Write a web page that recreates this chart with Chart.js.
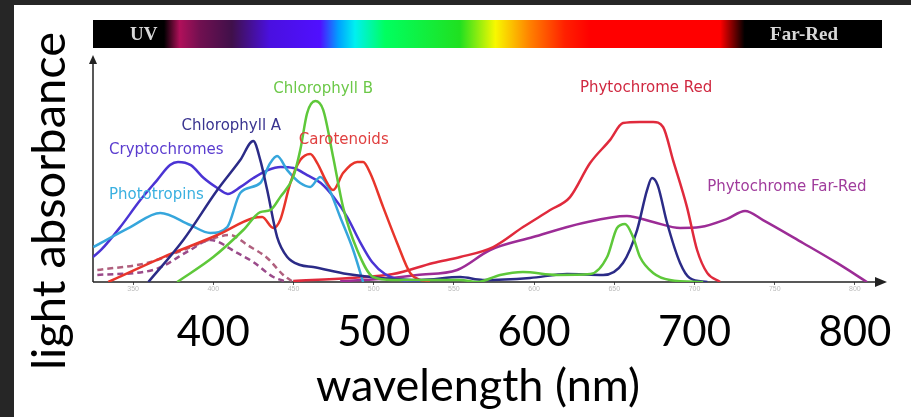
<!DOCTYPE html>
<html>
<head>
<meta charset="utf-8">
<script src="https://cdn.jsdelivr.net/npm/chart.js@4.4.0/dist/chart.umd.min.js"></script>
<style>
  html, body { margin: 0; padding: 0; background: #262626; }
  body { width: 911px; height: 417px; overflow: hidden; position: relative; }
  #wrap { position: absolute; left: 14px; top: 5px; width: 897px; height: 412px; background: #fff; }
</style>
</head>
<body>
<div id="wrap"><canvas id="spectrumChart" width="897" height="412"></canvas></div>
<script>
// --- data: [wavelength nm, relative absorbance 0-100] ---
const cryptochromes = [[325, 11], [330, 14.1], [342, 24.2], [354.5, 36.1], [365, 44.9], [373, 51.5], [378, 52.9],
  [386, 51.5], [394, 45.8], [402.5, 41.4], [409, 38.8], [417, 41.9], [425, 45.8], [434, 49.3], [442, 50.7],
  [450, 50.2], [458.5, 47.1], [467, 43.6], [475, 37.4], [483.5, 28.6], [491.5, 17.6], [499, 8.8], [507, 3.5],
  [516.5, 0.9], [529, 0]];
const chlorophyllA = [[359.5, 0], [381.3, 18.5], [402.5, 40.5], [416.8, 53.7], [424.9, 62.1], [429.3, 53.7],
  [433.6, 40.5], [439.8, 19.8], [446.1, 11], [454.2, 7.5], [462.3, 6.6], [483.5, 3.5], [504, 1.8], [529, 0.9],
  [554, 2.2], [568, 0.9], [597.5, 1.8], [620.5, 3.5], [643, 3.1], [655.4, 8.4], [664.2, 22.9], [670.4, 40.5],
  [673.5, 45.8], [677, 42.7], [682.9, 26], [691, 8.4], [697, 1.8], [708, 0]];
const chlorophyllB = [[377.5, 0], [400, 11], [418.7, 22.9], [429.3, 30.8], [435.5, 31.7], [441.7, 37.4],
  [449.8, 46.3], [454.2, 58.1], [458.5, 74.4], [463.6, 79.7], [468.5, 75.8], [474.7, 55.1], [480.9, 33],
  [489.7, 14.1], [499.7, 2.2], [512, 0.9], [554, 0.9], [564.5, 0], [578.8, 3.1], [593, 4.4], [614.3, 3.1],
  [635, 3.5], [645.5, 11], [651.7, 23.8], [656.7, 25.6], [661.7, 19.8], [666, 11], [674.2, 4], [684.7, 0.9],
  [705.4, 0]];
const carotenoids = [[334.5, 0], [368.8, 11], [402.5, 20.7], [424.9, 28.2], [430.5, 28.6], [437.4, 23.8],
  [441.7, 27.3], [448, 43.6], [454.2, 53.7], [460.4, 56.4], [464.8, 52.4], [471, 43.6], [474.7, 40.5],
  [480.9, 48], [489.7, 52.9], [493.4, 52.9], [497.8, 48], [505.9, 33], [514.6, 17.2], [522.7, 4], [528.9, 0.9],
  [535, 0]];
const phototropins = [[325.2, 15.4], [348.3, 24.2], [366.9, 30.4], [385.6, 25.1], [398.1, 21.6], [408.7, 24.2],
  [416.8, 39.2], [429.3, 43.6], [435.5, 52.4], [439.8, 55.5], [446.1, 49.3], [454.2, 43.6], [460.4, 41.9],
  [466.7, 46.3], [471.6, 41.9], [479.1, 28.6], [487.2, 14.1], [493.4, 0]];
const phytochromeRed = [[449.8, 0.4], [485.3, 1.8], [512.1, 3.5], [537.1, 8.4], [553.9, 11], [574.5, 15.4],
  [593.1, 24.2], [610, 31.7], [622.4, 37.4], [634.9, 52.4], [647.4, 62.6], [655.4, 70], [666, 70.5],
  [674.2, 70.5], [680.4, 68.3], [686.6, 53.7], [695.3, 33], [701.6, 14.1], [707.9, 4], [716, 0]];
const phytochromeFarRed = [[479.1, 0.4], [504, 1.3], [527.1, 3.1], [552, 5.3], [572.6, 14.1], [599.4, 19.8],
  [630.5, 26], [657.9, 29.1], [674.2, 26.4], [691, 23.8], [703.5, 24.2], [720.3, 27.8], [731.5, 31.3],
  [742.7, 27.3], [767.6, 17.2], [788.8, 8.4], [807.5, 0]];
const dashedUpper = [[327.7, 5.3], [358.8, 8.4], [381.3, 14.1], [402.5, 19.8], [410.6, 20.7], [421.2, 16.3],
  [433.6, 10.6], [443.6, 3.1], [449.8, 0]];
const dashedLower = [[327.7, 3.1], [362.6, 5.3], [385.6, 14.1], [398.1, 18.5], [414.9, 12.8], [424.9, 8.8],
  [437.4, 2.2], [446.1, 0]];

const majorTicks = [400, 500, 600, 700, 800];
const minorTicks = [350, 400, 450, 500, 550, 600, 650, 700, 750, 800];
const xTitle = 'wavelength (nm)';
const yTitle = 'light absorbance';

// label text, anchor wavelength, anchor absorbance, colour
const curveLabels = [
  ['Cryptochromes', 370.7, 58.1, '#5a3ccf'],
  ['Chlorophyll A', 411.2, 68.7, '#3a3490'],
  ['Chlorophyll B', 468.5, 85.0, '#6cc848'],
  ['Carotenoids', 481.3, 62.6, '#e04040'],
  ['Phototropins', 364.5, 38.3, '#3ab0e0'],
  ['Phytochrome Red', 669.8, 85.5, '#d02840'],
  ['Phytochrome Far-Red', 757.6, 41.9, '#a03c9c']
];

const spectrumStops = [
  [0, '#000'], [0.09, '#000'], [0.11, '#b0105a'], [0.136, '#701050'], [0.176, '#40104a'],
  [0.224, '#4a10e0'], [0.288, '#5010ff'], [0.311, '#00a0ff'], [0.332, '#00f0f0'], [0.37, '#00ff60'],
  [0.465, '#20e020'], [0.51, '#f8f800'], [0.554, '#ff8000'], [0.598, '#ff2000'], [0.63, '#ff0000'],
  [0.795, '#ff0000'], [0.826, '#000'], [1, '#000']
];

// --- helpers ---
const toPoints = arr => arr.map(([x, y]) => ({ x, y }));
const makeLine = (label, arr, color, dash) => ({
  label: label,
  data: toPoints(arr),
  borderColor: color,
  borderWidth: 2.5,
  borderDash: dash || [],
  pointRadius: 0,
  fill: false,
  cubicInterpolationMode: 'monotone'
});

// --- plugins ---
const spectrumBar = {
  id: 'spectrumBar',
  beforeDraw(chart) {
    const { ctx, chartArea } = chart;
    const x0 = chartArea.left, x1 = chartArea.right - 5, y0 = 15, h = 28;
    const g = ctx.createLinearGradient(x0, 0, x1, 0);
    spectrumStops.forEach(([f, c]) => g.addColorStop(f, c));
    ctx.save();
    ctx.fillStyle = g;
    ctx.fillRect(x0, y0, x1 - x0, h);
    ctx.fillStyle = '#d8d8d8';
    ctx.font = 'bold 19px "Liberation Serif"';
    ctx.textBaseline = 'middle';
    ctx.textAlign = 'left';
    ctx.fillText('UV', x0 + 37, y0 + h / 2 + 1);
    ctx.textAlign = 'right';
    ctx.fillText('Far-Red', x1 - 44, y0 + h / 2 + 1);
    ctx.restore();
  }
};

const axisArrows = {
  id: 'axisArrows',
  beforeDatasetsDraw(chart) {
    const { ctx, chartArea: a } = chart;
    ctx.save();
    ctx.strokeStyle = '#222';
    ctx.fillStyle = '#222';
    ctx.lineWidth = 1.5;
    ctx.beginPath();
    ctx.moveTo(a.left, a.bottom); ctx.lineTo(a.left, a.top + 6);
    ctx.moveTo(a.left, a.bottom); ctx.lineTo(a.right - 8, a.bottom);
    ctx.stroke();
    ctx.beginPath();
    ctx.moveTo(a.left, a.top); ctx.lineTo(a.left - 4, a.top + 9); ctx.lineTo(a.left + 4, a.top + 9);
    ctx.fill();
    ctx.beginPath();
    ctx.moveTo(a.right, a.bottom); ctx.lineTo(a.right - 12, a.bottom - 5); ctx.lineTo(a.right - 12, a.bottom + 5);
    ctx.fill();
    ctx.restore();
  }
};

const labelsAndTitles = {
  id: 'labelsAndTitles',
  afterDraw(chart) {
    const { ctx } = chart;
    const xs = chart.scales.x, ys = chart.scales.y;
    ctx.save();
    ctx.textAlign = 'center';
    ctx.textBaseline = 'middle';
    ctx.font = '15px "DejaVu Sans"';
    curveLabels.forEach(([text, nm, v, color]) => {
      ctx.fillStyle = color;
      ctx.fillText(text, xs.getPixelForValue(nm), ys.getPixelForValue(v));
    });
    // axis titles
    ctx.fillStyle = '#000';
    ctx.font = '45px Lato';
    ctx.fillText(xTitle, 464, 381);
    ctx.font = '47px Lato';
    ctx.translate(36, 196);
    ctx.rotate(-Math.PI / 2);
    ctx.fillText(yTitle, 0, 0);
    ctx.restore();
  }
};

// --- chart ---
const ctx = document.getElementById('spectrumChart').getContext('2d');
new Chart(ctx, {
  type: 'line',
  data: {
    datasets: [
      makeLine('Chlorophyll B', chlorophyllB, '#5ec83a'),
      makeLine('Chlorophyll A', chlorophyllA, '#2b2b87'),
      makeLine('Carotenoids', carotenoids, '#e8352b'),
      makeLine('Phototropins', phototropins, '#36a6dc'),
      makeLine('Cryptochromes', cryptochromes, '#4b34d4'),
      makeLine('Phytochrome Red', phytochromeRed, '#e02a3c'),
      makeLine('Phytochrome Far-Red', phytochromeFarRed, '#9c2c96'),
      makeLine('Dashed 1', dashedUpper, '#b0607e', [6, 4]),
      makeLine('Dashed 2', dashedLower, '#9a4a8a', [6, 4])
    ]
  },
  options: {
    responsive: false,
    animation: false,
    layout: { padding: { top: 50, left: 79, right: 24, bottom: 0 } },
    plugins: { legend: { display: false }, tooltip: { enabled: false } },
    scales: {
      y: { display: false, min: 0, max: 100 },
      xm: {
        type: 'linear', position: 'bottom', weight: 0, min: 325, max: 820,
        afterBuildTicks: s => { s.ticks = minorTicks.map(v => ({ value: v })); },
        afterFit: s => { s.height = 14; },
        grid: { drawOnChartArea: false, drawTicks: true, tickLength: 3, color: '#555' },
        border: { display: false },
        ticks: { font: { size: 7 }, color: '#bbb', padding: 0, maxRotation: 0 }
      },
      x: {
        type: 'linear', position: 'bottom', weight: 1, min: 325, max: 820,
        afterBuildTicks: s => { s.ticks = majorTicks.map(v => ({ value: v })); },
        afterFit: s => { s.height = 121; },
        grid: { display: false, drawTicks: false },
        border: { display: false },
        ticks: { font: { family: 'Lato', size: 42 }, color: '#000', padding: 11, maxRotation: 0 }
      }
    }
  },
  plugins: [spectrumBar, axisArrows, labelsAndTitles]
});
</script>
</body>
</html>
